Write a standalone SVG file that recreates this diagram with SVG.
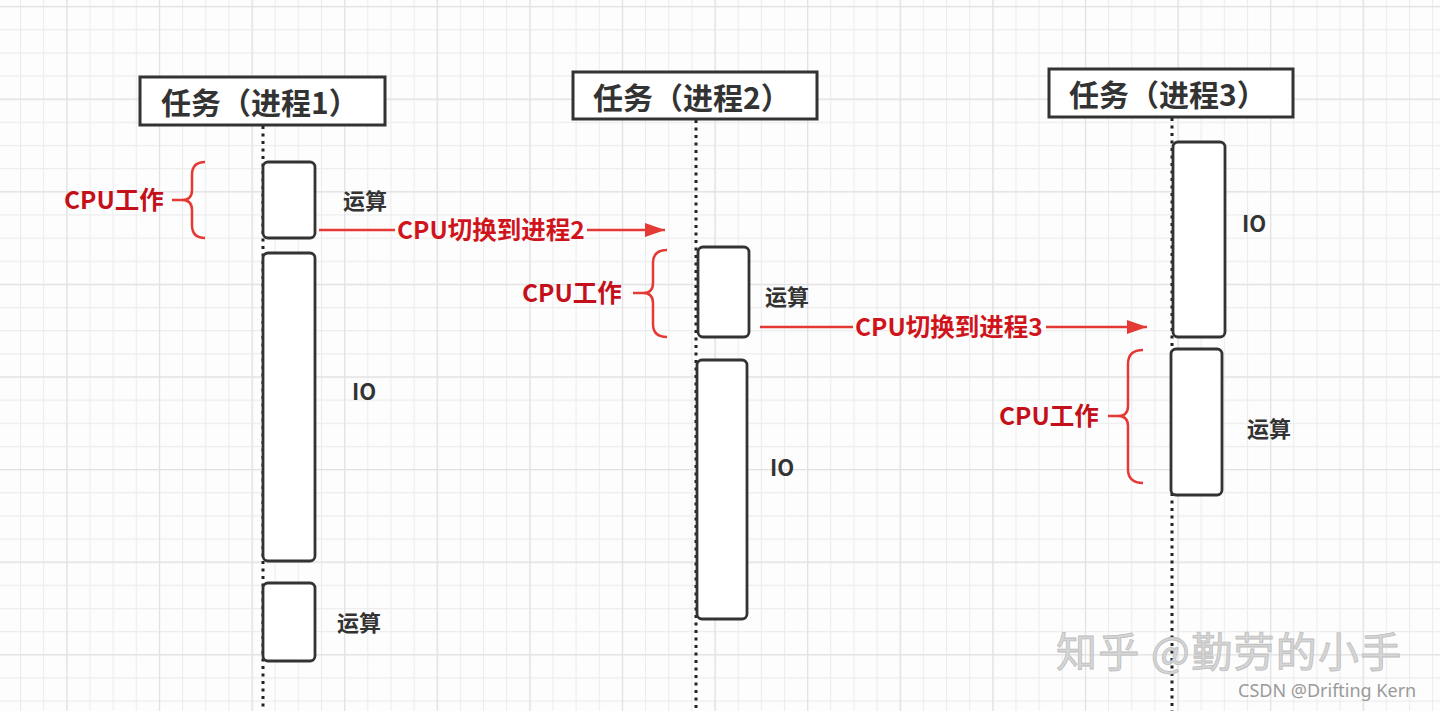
<svg xmlns="http://www.w3.org/2000/svg" width="1440" height="711" viewBox="0 0 1440 711">
<defs>
<pattern id="grid" patternUnits="userSpaceOnUse" x="20" y="6" width="23.15" height="23.15">
<path d="M0.5,0 V23.15 M0,0.5 H23.15" fill="none" stroke="#ececec" stroke-width="1.2"/>
</pattern>
<pattern id="gridMajor" patternUnits="userSpaceOnUse" x="66.3" y="6" width="92.6" height="92.6">
<path d="M0.5,0 V92.6 M0,0.5 H92.6" fill="none" stroke="#e2e2e2" stroke-width="1.4"/>
</pattern>
<marker id="arr" viewBox="0 0 20 14" refX="20" refY="7" markerWidth="20" markerHeight="14" markerUnits="userSpaceOnUse" orient="auto">
<path d="M0,0 L20,7 L0,14 z" fill="#e53935"/>
</marker>
<style>
.hdr{fill:#fff;stroke:#333;stroke-width:3}
.hdrt{font-family:"Noto Sans CJK SC",sans-serif;font-weight:bold;font-size:30px;fill:#333}
.life{stroke:#222;stroke-width:3;stroke-dasharray:3 4.5;fill:none}
.act{fill:#fff;stroke:#333;stroke-width:2.8}
.lbl{font-family:"Noto Sans CJK SC",sans-serif;font-weight:bold;font-size:22px;fill:#333}
.cpu{font-family:"Noto Sans CJK SC",sans-serif;font-weight:bold;font-size:24.5px;fill:#c4101a}
.brace{fill:none;stroke:#e53935;stroke-width:2.5}
.conn{fill:none;stroke:#e53935;stroke-width:2.5}
.sw{font-family:"Noto Sans CJK SC",sans-serif;font-weight:bold;font-size:24.5px;fill:#d0141c}
</style>
</defs>
<rect width="1440" height="711" fill="#fdfdfd"/>
<rect width="1440" height="711" fill="url(#grid)"/>
<rect width="1440" height="711" fill="url(#gridMajor)"/>

<g id="lifelines">
<line class="life" x1="263" y1="126" x2="263" y2="711"/>
<line class="life" x1="696" y1="120" x2="696" y2="711"/>
<line class="life" x1="1172" y1="118" x2="1172" y2="711"/>
</g>

<g id="task1">
<rect class="hdr" x="140" y="77" width="245" height="48"/>
<text class="hdrt" x="161" y="114">任务（进程1）</text>
</g>
<g id="task2">
<rect class="hdr" x="573" y="72" width="244" height="47"/>
<text class="hdrt" x="593" y="109">任务（进程2）</text>
</g>
<g id="task3">
<rect class="hdr" x="1049" y="69" width="244" height="48"/>
<text class="hdrt" x="1069" y="106">任务（进程3）</text>
</g>

<g id="t1-calc1">
<rect class="act" x="263" y="162" width="52" height="76" rx="5"/>
<text class="lbl" x="343" y="209">运算</text>
</g>
<g id="t1-io">
<rect class="act" x="263" y="253" width="52" height="308" rx="5"/>
<text class="lbl" x="352" y="400">IO</text>
</g>
<g id="t1-calc2">
<rect class="act" x="263" y="583" width="52" height="78" rx="5"/>
<text class="lbl" x="337" y="631">运算</text>
</g>
<g id="t2-calc">
<rect class="act" x="698" y="247" width="51" height="90" rx="5"/>
<text class="lbl" x="765" y="305">运算</text>
</g>
<g id="t2-io">
<rect class="act" x="697" y="360" width="50" height="259" rx="5"/>
<text class="lbl" x="770" y="476">IO</text>
</g>
<g id="t3-io">
<rect class="act" x="1173" y="142" width="52" height="195" rx="5"/>
<text class="lbl" x="1242" y="232">IO</text>
</g>
<g id="t3-calc">
<rect class="act" x="1171" y="349" width="51" height="146" rx="5"/>
<text class="lbl" x="1247" y="437">运算</text>
</g>

<g id="cpu1">
<path class="brace" d="M205,162 Q192,162 192,175 L192,190 Q192,200 182,200 Q192,200 192,210 L192,225 Q192,238 205,238 M172,200 L182,200"/>
<text class="cpu" x="64" y="209">CPU工作</text>
</g>
<g id="cpu2">
<path class="brace" d="M667,250 Q653,250 653,263 L653,283 Q653,293 643,293 Q653,293 653,303 L653,324 Q653,337 667,337 M633,293 L643,293"/>
<text class="cpu" x="522" y="302">CPU工作</text>
</g>
<g id="cpu3">
<path class="brace" d="M1143,350 Q1128,350 1128,364 L1128,406 Q1128,416 1118,416 Q1128,416 1128,426 L1128,469 Q1128,483 1143,483 M1108,416 L1118,416"/>
<text class="cpu" x="999" y="425">CPU工作</text>
</g>

<g id="connectors">
<line class="conn" x1="319" y1="230" x2="395" y2="230"/>
<line class="conn" x1="587" y1="230" x2="665" y2="230" marker-end="url(#arr)"/>
<text class="sw" x="397" y="239">CPU切换到进程2</text>
<line class="conn" x1="760" y1="327" x2="853" y2="327"/>
<line class="conn" x1="1046" y1="327" x2="1147" y2="327" marker-end="url(#arr)"/>
<text class="sw" x="855" y="336">CPU切换到进程3</text>
</g>

<g id="watermark">
<text x="1056" y="667" font-family="Noto Sans CJK SC,sans-serif" font-size="41" fill="#d6d6d6" stroke="#bdbdbd" stroke-width="0.8" letter-spacing="1.3">知乎 @勤劳的小手</text>
<text x="1238" y="697" font-family="Noto Sans,sans-serif" font-size="18" fill="#9a9a9a">CSDN @Drifting Kern</text>
</g>
</svg>
